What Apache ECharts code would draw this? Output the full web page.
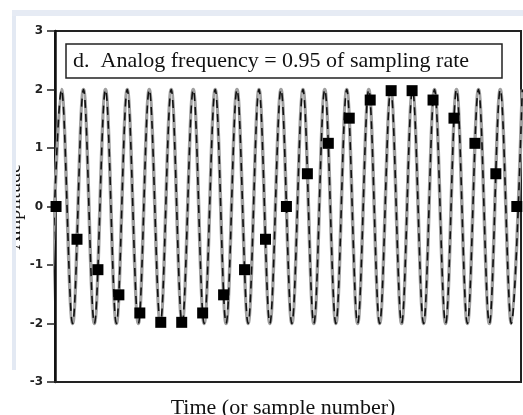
<!DOCTYPE html>
<html>
<head>
<meta charset="utf-8">
<title>Analog frequency 0.95</title>
<script src="https://cdn.jsdelivr.net/npm/echarts@6/dist/echarts.min.js"></script>
<style>
  html, body { margin: 0; padding: 0; background: #ffffff; }
  #chart { width: 523px; height: 415px; }
</style>
</head>
<body>
<div id="chart"></div>
<script>
// sampled points, one per sample number
let sampleNumbers = [0, 1, 2, 3, 4, 5, 6, 7, 8, 9, 10, 11, 12, 13, 14, 15, 16, 17, 18, 19, 20, 21, 22];
let sampleValues = [0, -0.56, -1.08, -1.51, -1.82, -1.98, -1.98, -1.82, -1.51, -1.08, -0.56,
  0, 0.56, 1.08, 1.51, 1.82, 1.98, 1.98, 1.82, 1.51, 1.08, 0.56, 0];

// analog wave, read as its crests and troughs (time in samples)
let peakTimes = [0.26, 1.31, 2.36, 3.40, 4.45, 5.50, 6.55, 7.60, 8.64, 9.69, 10.74,
  11.79, 12.83, 13.88, 14.93, 15.98, 17.02, 18.07, 19.12, 20.17, 21.21, 22.26];
let troughTimes = [-0.26, 0.79, 1.83, 2.88, 3.93, 4.98, 6.02, 7.07, 8.12, 9.17, 10.21,
  11.26, 12.31, 13.36, 14.40, 15.45, 16.50, 17.55, 18.60, 19.64, 20.69, 21.74];
let peakValue = 2;
let troughValue = -2;

let yTicks = [-3, -2, -1, 0, 1, 2, 3];

let titleText = 'd.  Analog frequency = 0.95 of sampling rate';
let xName = 'Time (or sample number)';
let yName = 'Amplitude';

let wave = [];
for (let i = 0; i < troughTimes.length; i++) {
  wave.push([troughTimes[i], troughValue]);
  wave.push([peakTimes[i], peakValue]);
}

let samples = sampleNumbers.map((n, i) => [n, sampleValues[i]]);

let chart = echarts.init(document.getElementById('chart'));
let option = {
  backgroundColor: '#ffffff',
  animation: false,
  grid: {
    left: 55,
    right: 2,
    top: 31,
    bottom: 33,
    containLabel: false,
    outerBoundsMode: 'none',
    show: true,
    borderColor: '#222',
    borderWidth: 2,
    backgroundColor: 'transparent'
  },
  xAxis: {
    type: 'value',
    min: -0.05,
    max: 22.2,
    name: xName,
    nameLocation: 'middle',
    nameGap: 15,
    nameTextStyle: {
      fontFamily: 'Liberation Serif',
      fontSize: 22,
      color: '#111',
      padding: [0, 10, 0, 0]
    },
    axisLine: { show: true, onZero: false, lineStyle: { color: '#222', width: 2 } },
    axisTick: { show: false },
    axisLabel: { show: false },
    splitLine: { show: false }
  },
  yAxis: {
    type: 'value',
    min: yTicks[0],
    max: yTicks[yTicks.length - 1],
    interval: 1,
    axisLine: { show: true, onZero: false, lineStyle: { color: '#111', width: 2.5 } },
    axisTick: { show: true, inside: false, length: 8, lineStyle: { color: '#222', width: 1.5 } },
    axisLabel: {
      margin: 12,
      fontFamily: 'DejaVu Sans',
      fontSize: 12,
      fontWeight: 'bold',
      color: '#222'
    },
    splitLine: { show: false }
  },
  series: [
    {
      type: 'line',
      data: wave,
      smooth: 0.36,
      showSymbol: false,
      lineStyle: { color: '#a0a0a0', width: 3.5 },
      z: 2
    },
    {
      type: 'line',
      data: wave,
      smooth: 0.36,
      showSymbol: false,
      lineStyle: { color: '#111', width: 1.6, type: [8, 6] },
      z: 3
    },
    {
      type: 'scatter',
      data: samples,
      symbol: 'rect',
      symbolSize: 11,
      itemStyle: { color: '#000', opacity: 1 },
      z: 5
    }
  ],
  graphic: [
    {
      type: 'rect',
      shape: { x: 66, y: 44, width: 436, height: 34 },
      style: { fill: '#fff', stroke: '#222', lineWidth: 1.5 },
      z: 10
    },
    {
      type: 'text',
      x: 73,
      y: 61,
      style: {
        text: titleText,
        font: '22px "Liberation Serif"',
        fill: '#111',
        verticalAlign: 'middle'
      },
      z: 11
    },
    // y name, partly under the scan edge like in the picture
    {
      type: 'text',
      x: 25,
      y: 207,
      rotation: Math.PI / 2,
      style: {
        text: yName,
        font: '20px "Liberation Serif"',
        fill: '#111',
        align: 'center',
        verticalAlign: 'bottom'
      },
      z: 15
    },
    // scan edges: white margin and light blue band
    {
      type: 'rect',
      shape: { x: 0, y: 0, width: 12, height: 415 },
      style: { fill: '#fff' },
      z: 20
    },
    {
      type: 'rect',
      shape: { x: 12, y: 10, width: 4, height: 360 },
      style: { fill: '#e3e9f3' },
      z: 20
    },
    {
      type: 'rect',
      shape: { x: 12, y: 10, width: 511, height: 6 },
      style: { fill: '#e6ebf4' },
      z: 20
    }
  ]
};
chart.setOption(option);
</script>
</body>
</html>
